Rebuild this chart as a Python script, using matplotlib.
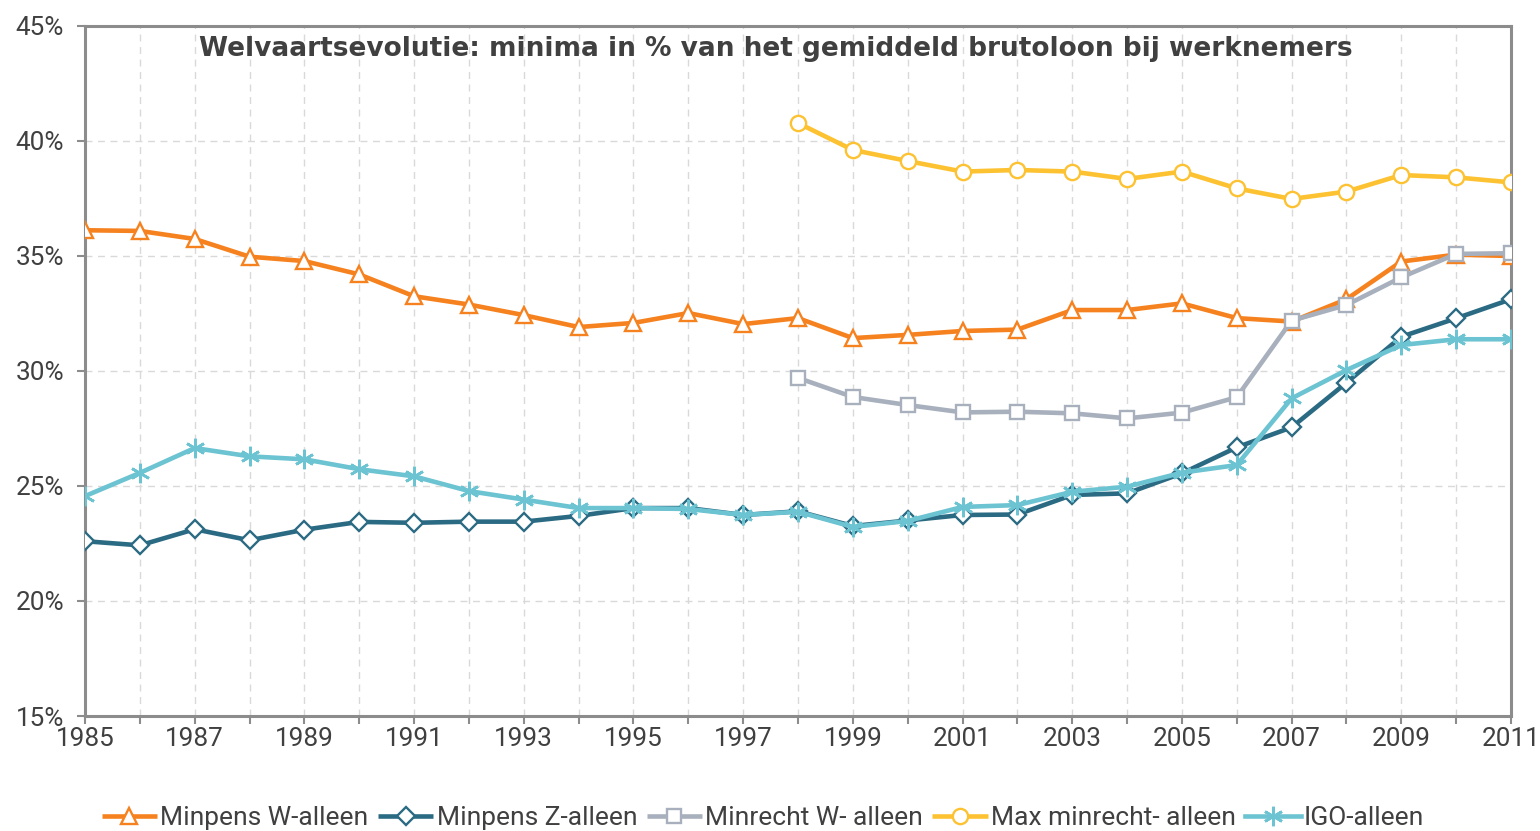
import matplotlib
matplotlib.use("Agg")
import matplotlib.pyplot as plt
import numpy as np

years = list(range(1985, 2012))
years_late = list(range(1998, 2012))

minpens_w = [36.12, 36.09, 35.74, 34.97, 34.78, 34.20, 33.25, 32.89, 32.43, 31.91,
             32.09, 32.52, 32.04, 32.30, 31.43, 31.57, 31.74, 31.80, 32.65, 32.65,
             32.94, 32.30, 32.15, 33.12, 34.76, 35.06, 35.00]
minpens_z = [22.60, 22.42, 23.12, 22.64, 23.10, 23.44, 23.40, 23.45, 23.45, 23.70,
             24.04, 24.04, 23.74, 23.90, 23.26, 23.50, 23.74, 23.76, 24.61, 24.68,
             25.55, 26.68, 27.55, 29.49, 31.49, 32.29, 33.12]
minrecht_w = [29.70, 28.87, 28.52, 28.20, 28.23, 28.16, 27.94, 28.19, 28.86, 32.19,
              32.87, 34.07, 35.09, 35.12]
max_minrecht = [40.78, 39.61, 39.13, 38.67, 38.74, 38.67, 38.35, 38.67, 37.94, 37.48,
                37.80, 38.52, 38.42, 38.20]
igo = [24.56, 25.57, 26.65, 26.29, 26.16, 25.73, 25.42, 24.78, 24.41, 24.04,
       24.04, 24.00, 23.74, 23.88, 23.22, 23.48, 24.09, 24.17, 24.75, 24.97,
       25.58, 25.91, 28.81, 30.04, 31.13, 31.38, 31.38]

labels = ["Minpens W-alleen", "Minpens Z-alleen", "Minrecht W- alleen",
          "Max minrecht- alleen", "IGO-alleen"]
title = "Welvaartsevolutie: minima in % van het gemiddeld brutoloon bij werknemers"

c_orange = "#F5821F"
c_dark = "#2B6A83"
c_gray = "#A7B0BC"
c_yellow = "#FDC232"
c_cyan = "#6CC3D1"
axis_gray = "#8C8C8C"
text_gray = "#404040"

plt.rcParams["font.family"] = ["Roboto", "DejaVu Sans"]

fig = plt.figure(figsize=(15.4, 8.31), dpi=100)
ax = fig.add_axes([85/1540, 1-716/831, (1511-85)/1540, (716-26)/831])

lw = 3.3
ms = 11
mew = 1.7
common = dict(linewidth=lw, markersize=ms, markeredgewidth=mew, markerfacecolor="white",
              solid_joinstyle="round", solid_capstyle="butt")

ax.plot(years, minpens_w, color=c_orange, marker="^", label=labels[0], zorder=3, **common)
ax.plot(years, minpens_z, color=c_dark, marker="D", label=labels[1], zorder=4,
        **{**common, "markersize": 9})
ax.plot(years_late, minrecht_w, color=c_gray, marker="s", label=labels[2], zorder=5,
        **{**common, "markersize": 10})
ax.plot(years_late, max_minrecht, color=c_yellow, marker="o", label=labels[3], zorder=3,
        **common)
ax.plot(years, igo, color=c_cyan, marker=(6, 2, 0), label=labels[4], zorder=6,
        linewidth=lw, markersize=14, markeredgewidth=1.9, solid_joinstyle="round")

ax.set_xlim(1985, 2011)
ax.set_ylim(15, 45)
ax.set_xticks(years)
ax.set_xticklabels([str(y) if (y - 1985) % 2 == 0 else "" for y in years])
yt = [15, 20, 25, 30, 35, 40, 45]
ax.set_yticks(yt)
ax.set_yticklabels([f"{v}%" for v in yt])

ax.grid(True, color="#D9D9D9", linestyle=(0, (5, 4)), linewidth=1.0, zorder=0)
ax.set_axisbelow(True)

for s in ax.spines.values():
    s.set_color(axis_gray)
    s.set_linewidth(2.2)

ax.tick_params(axis="both", direction="out", length=6, width=1.5, color=axis_gray,
               labelcolor=text_gray, labelsize=18.8)
ax.tick_params(axis="y", pad=9)
ax.tick_params(axis="x", pad=2)

ax.text((776-85)/1426, (716-49)/690, title, transform=ax.transAxes, ha="center",
        va="center", fontsize=19, fontweight="bold", color=text_gray,
        family=["DejaVu Sans"])

leg = fig.legend(loc="center", bbox_to_anchor=(763/1540, 1-818/831), ncol=5,
                 frameon=False, handlelength=2.1, handletextpad=0.12,
                 columnspacing=0.36, prop={"size": 19})
for t in leg.get_texts():
    t.set_color(text_gray)

fig.savefig("out.png", dpi=100)
